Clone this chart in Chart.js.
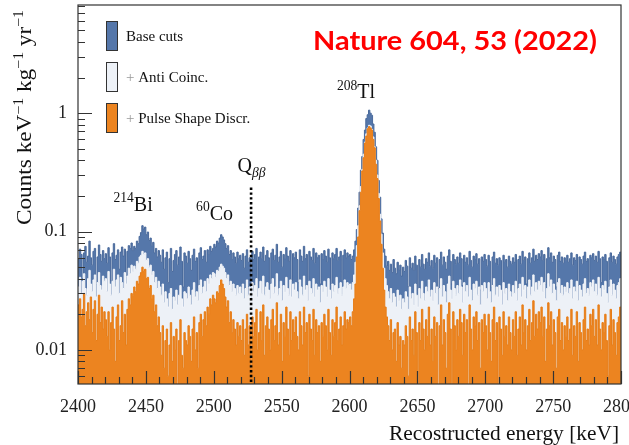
<!DOCTYPE html>
<html>
<head>
<meta charset="utf-8">
<script src="https://cdn.jsdelivr.net/npm/chart.js@4.4.1/dist/chart.umd.min.js"></script>
<style>
  html, body { margin: 0; padding: 0; background: #fff; overflow: hidden; }
  #wrap { width: 640px; height: 445px; }
</style>
</head>
<body>
<div id="wrap"><canvas id="c" width="640" height="445"></canvas></div>
<script>
// 1 keV bins from 2400 keV, values in counts/(keV kg yr)
const binStart = 2400;
const binWidth = 1;

const baseCuts = [
  .058,.071,.064,.040,.066,.075,.055,.062,.083,.060,.052,.068,.072,.036,.061,.077,.064,.056,.069,.059,
  .065,.054,.073,.061,.038,.066,.079,.058,.063,.070,.048,.067,.074,.062,.071,.041,.068,.076,.072,.080,
  .069,.075,.072,.083,.079,.091,.098,.112,.105,.109,.094,.099,.084,.088,.076,.081,.066,.072,.061,.069,
  .063,.055,.070,.048,.060,.067,.037,.059,.072,.046,.057,.064,.069,.052,.061,.074,.056,.034,.066,.062,
  .054,.068,.059,.047,.063,.071,.056,.060,.033,.066,.073,.058,.062,.069,.055,.070,.064,.075,.068,.072,
  .078,.074,.083,.080,.088,.094,.090,.085,.079,.072,.076,.064,.069,.058,.066,.061,.054,.067,.059,.063,
  .057,.065,.049,.062,.070,.055,.060,.035,.068,.058,.064,.072,.039,.061,.067,.059,.074,.056,.063,.069,
  .060,.036,.066,.071,.057,.063,.078,.055,.061,.068,.050,.064,.059,.073,.062,.056,.069,.038,.065,.060,
  .067,.058,.037,.070,.062,.056,.075,.059,.064,.034,.068,.061,.057,.072,.054,.066,.060,.063,.036,.065,
  .058,.069,.062,.055,.071,.060,.035,.066,.059,.064,.072,.057,.061,.068,.038,.063,.070,.060,.066,.062,
  .064,.058,.062,.070,.083,.104,.158,.215,.33,.43,.60,.72,.90,.97,1.06,1.00,.96,.81,.69,.52,
  .40,.27,.195,.128,.097,.071,.062,.051,.056,.047,.053,.045,.058,.049,.044,.055,.047,.052,.042,.050,
  .046,.057,.051,.034,.060,.049,.054,.047,.062,.052,.031,.058,.050,.064,.053,.048,.059,.055,.066,.051,
  .057,.049,.063,.054,.060,.033,.058,.067,.052,.061,.055,.048,.062,.070,.056,.036,.064,.058,.053,.061,
  .054,.066,.059,.035,.063,.055,.060,.052,.068,.057,.050,.062,.058,.065,.053,.059,.032,.061,.056,.064,
  .058,.051,.063,.056,.034,.061,.067,.054,.059,.052,.060,.057,.031,.063,.055,.058,.050,.062,.056,.053,
  .060,.055,.064,.033,.058,.062,.053,.068,.057,.061,.036,.059,.066,.054,.060,.071,.056,.063,.058,.065,
  .061,.069,.057,.064,.036,.059,.073,.060,.066,.055,.062,.058,.034,.063,.067,.056,.061,.054,.060,.057,
  .063,.055,.059,.066,.052,.060,.057,.064,.035,.061,.058,.053,.062,.067,.056,.059,.037,.063,.060,.065,
  .057,.062,.055,.068,.059,.037,.061,.058,.064,.056,.033,.060,.066,.055,.062,.058,.053,.061,.064,.067
];

const antiCoinc = [
  .034,.041,.030,.038,.044,.033,.029,.040,.047,.036,.031,.039,.043,.028,.037,.045,.035,.032,.042,.038,
  .040,.031,.046,.036,.029,.038,.048,.034,.039,.043,.030,.041,.037,.033,.045,.036,.042,.049,.044,.052,
  .046,.051,.048,.056,.054,.061,.063,.068,.064,.066,.057,.059,.050,.052,.043,.046,.037,.041,.033,.038,
  .034,.029,.036,.025,.031,.027,.023,.030,.033,.022,.028,.026,.032,.024,.029,.035,.027,.023,.031,.030,
  .027,.034,.029,.024,.032,.037,.028,.031,.026,.035,.039,.030,.034,.038,.031,.040,.036,.043,.040,.045,
  .044,.041,.047,.046,.050,.053,.051,.049,.045,.040,.043,.035,.038,.031,.036,.033,.029,.035,.030,.034,
  .030,.036,.027,.033,.039,.029,.034,.026,.037,.031,.035,.040,.028,.033,.038,.030,.042,.029,.034,.037,
  .032,.027,.036,.040,.030,.034,.044,.029,.033,.038,.026,.035,.031,.041,.033,.029,.039,.028,.036,.032,
  .037,.031,.027,.039,.034,.029,.042,.032,.035,.026,.038,.033,.030,.040,.028,.036,.032,.034,.025,.035,
  .031,.038,.034,.028,.040,.032,.027,.036,.031,.035,.041,.030,.033,.037,.029,.034,.039,.033,.037,.035,
  .036,.032,.037,.043,.055,.076,.112,.165,.24,.335,.45,.57,.67,.75,.79,.78,.73,.63,.52,.40,
  .30,.21,.14,.095,.066,.049,.040,.035,.031,.027,.033,.025,.030,.028,.023,.032,.026,.029,.022,.027,
  .025,.031,.028,.022,.034,.027,.030,.024,.036,.029,.023,.033,.027,.038,.030,.026,.034,.031,.039,.028,
  .032,.026,.037,.030,.034,.024,.033,.040,.028,.035,.031,.025,.036,.042,.032,.027,.038,.033,.029,.035,
  .030,.039,.034,.025,.037,.031,.035,.028,.041,.032,.026,.036,.033,.038,.029,.034,.024,.035,.031,.037,
  .033,.027,.037,.031,.025,.035,.040,.029,.034,.028,.035,.032,.024,.037,.030,.033,.026,.036,.031,.028,
  .035,.030,.038,.026,.033,.036,.028,.041,.032,.035,.027,.034,.039,.029,.034,.043,.031,.037,.032,.038,
  .035,.041,.031,.037,.027,.033,.044,.034,.039,.030,.036,.032,.026,.037,.040,.030,.035,.029,.034,.031,
  .037,.030,.033,.039,.027,.034,.031,.038,.026,.035,.032,.028,.036,.040,.030,.033,.029,.037,.034,.039,
  .031,.036,.029,.041,.033,.028,.035,.032,.038,.030,.025,.034,.039,.029,.036,.032,.027,.035,.037,.040
];

const pulseShape = [
  .024,.027,.019,.022,.030,.016,.021,.025,.018,.028,.014,.022,.026,.012,.020,.029,.017,.023,.015,.021,
  .018,.013,.021,.010,.017,.023,.015,.008,.019,.024,.012,.016,.026,.014,.020,.011,.022,.027,.024,.030,
  .029,.034,.031,.038,.036,.042,.045,.050,.046,.048,.040,.041,.033,.035,.027,.029,.021,.024,.016,.019,
  .014,.009,.016,.007,.012,.015,.006,.011,.017,.008,.013,.010,.015,.005,.012,.018,.009,.007,.014,.012,
  .011,.016,.013,.008,.015,.019,.010,.014,.007,.017,.020,.013,.018,.021,.016,.023,.020,.027,.024,.029,
  .027,.025,.031,.030,.035,.039,.036,.033,.028,.023,.026,.017,.021,.014,.018,.015,.011,.017,.013,.016,
  .012,.018,.009,.015,.020,.011,.016,.007,.019,.013,.017,.022,.010,.014,.021,.012,.024,.009,.016,.019,
  .015,.010,.018,.022,.012,.016,.025,.011,.014,.020,.008,.017,.013,.023,.015,.009,.021,.012,.018,.014,
  .019,.013,.010,.021,.016,.011,.023,.014,.017,.006,.020,.015,.012,.022,.009,.018,.014,.016,.008,.017,
  .013,.020,.016,.010,.022,.014,.009,.018,.013,.017,.023,.012,.015,.019,.011,.016,.021,.015,.018,.017,
  .019,.016,.021,.027,.036,.061,.090,.150,.215,.325,.42,.56,.64,.74,.77,.75,.72,.60,.51,.37,
  .28,.19,.123,.078,.049,.032,.023,.019,.016,.012,.018,.010,.014,.015,.008,.017,.011,.013,.007,.012,
  .011,.016,.013,.006,.019,.012,.015,.009,.021,.014,.004,.017,.012,.022,.015,.010,.018,.013,.023,.011,
  .015,.008,.019,.013,.017,.004,.016,.024,.011,.018,.014,.007,.020,.025,.015,.004,.021,.016,.010,.018,
  .013,.022,.017,.009,.020,.014,.018,.004,.024,.015,.010,.019,.016,.021,.012,.017,.007,.018,.014,.020,
  .016,.010,.020,.014,.008,.018,.023,.012,.017,.004,.019,.015,.009,.021,.013,.016,.011,.019,.014,.010,
  .018,.013,.021,.009,.015,.019,.011,.024,.014,.018,.010,.016,.022,.012,.017,.026,.013,.020,.015,.021,
  .017,.023,.013,.019,.008,.015,.025,.016,.021,.011,.018,.014,.007,.019,.022,.012,.017,.010,.016,.013,
  .019,.012,.015,.022,.009,.016,.013,.021,.008,.017,.014,.010,.018,.023,.012,.015,.011,.020,.016,.022,
  .013,.018,.011,.024,.015,.010,.017,.014,.020,.012,.006,.016,.022,.011,.018,.014,.009,.017,.019,.023
];

const xTicks = [2400, 2450, 2500, 2550, 2600, 2650, 2700, 2750, 2800];
const yTicks = [0.01, 0.1, 1];
const qbb = 2527.5;

const SERIF = "'Liberation Serif', 'DejaVu Serif', serif";

// bin left edges + closing edge, drawn as a stepped line
function toSteps(vals) {
  const pts = vals.map((v, i) => ({ x: binStart + i * binWidth, y: v }));
  pts.push({ x: binStart + vals.length * binWidth, y: vals[vals.length - 1] });
  return pts;
}

// text made of runs, some raised or lowered
function drawRuns(ctx, runs, x, y, size, align, stretch) {
  const fontOf = r => (r.it ? 'italic ' : '') + ((r.sup || r.sub) ? size * 0.68 : size) + 'px ' + SERIF;
  let total = 0;
  runs.forEach(r => { ctx.font = fontOf(r); r.w = ctx.measureText(r.t).width; total += r.w; });
  const k = stretch ? stretch / total : 1;
  ctx.save();
  ctx.translate(x, y);
  ctx.scale(k, 1);
  let cx = align === 'center' ? -total / 2 : align === 'right' ? -total : 0;
  runs.forEach(r => {
    ctx.font = fontOf(r);
    ctx.fillStyle = r.color || '#111';
    const dy = r.sup ? -size * 0.42 : r.sub ? size * 0.25 : 0;
    ctx.fillText(r.t, cx, dy);
    cx += r.w;
  });
  ctx.restore();
  return total;
}

const overlay = {
  id: 'overlay',
  afterDraw(chart) {
    const { ctx, chartArea: a, scales: { x, y } } = chart;
    ctx.save();
    ctx.textAlign = 'left';
    ctx.textBaseline = 'alphabetic';

    // Q_bb dotted line
    ctx.strokeStyle = '#000';
    ctx.lineWidth = 2.6;
    ctx.setLineDash([2.4, 2.4]);
    const qx = x.getPixelForValue(qbb);
    ctx.beginPath();
    ctx.moveTo(qx, y.getPixelForValue(0.235));
    ctx.lineTo(qx, a.bottom);
    ctx.stroke();
    ctx.setLineDash([]);

    // frame
    ctx.strokeStyle = '#333';
    ctx.lineWidth = 1.2;
    ctx.strokeRect(a.left, a.top, a.right - a.left, a.bottom - a.top);

    // inward ticks
    ctx.beginPath();
    for (let e = 2400; e <= 2800; e += 10) {
      const px = Math.round(x.getPixelForValue(e)) + 0.5;
      const len = e % 50 === 0 ? 13 : 7;
      ctx.moveTo(px, a.bottom);
      ctx.lineTo(px, a.bottom - len);
    }
    for (let d = -3; d <= 0; d++) {
      for (let k = 1; k <= 9; k++) {
        const v = k * Math.pow(10, d);
        if (v < y.min || v > y.max) continue;
        const py = Math.round(y.getPixelForValue(v)) + 0.5;
        ctx.moveTo(a.left, py);
        ctx.lineTo(a.left + (k === 1 ? 14 : 7), py);
      }
    }
    ctx.stroke();

    // peak labels
    drawRuns(ctx, [{ t: '214', sup: 1 }, { t: 'Bi' }], x.getPixelForValue(2440.6), y.getPixelForValue(0.15), 20, 'center');
    drawRuns(ctx, [{ t: '60', sup: 1 }, { t: 'Co' }], x.getPixelForValue(2500.6), y.getPixelForValue(0.126), 20, 'center');
    drawRuns(ctx, [{ t: '208', sup: 1 }, { t: 'Tl' }], x.getPixelForValue(2604.8), y.getPixelForValue(1.34), 20, 'center');
    drawRuns(ctx, [{ t: 'Q' }, { t: 'ββ', sub: 1, it: 1 }], x.getPixelForValue(2517.5), y.getPixelForValue(0.32), 20, 'left');

    // legend
    const legend = [
      { fill: '#5577aa', runs: [{ t: 'Base cuts' }] },
      { fill: '#edf1f7', runs: [{ t: '+ ', color: '#999' }, { t: 'Anti Coinc.' }] },
      { fill: '#ec8420', runs: [{ t: '+ ', color: '#999' }, { t: 'Pulse Shape Discr.' }] }
    ];
    const boxTop = [21, 62, 103];
    legend.forEach((l, i) => {
      ctx.fillStyle = l.fill;
      ctx.fillRect(106, boxTop[i], 11, 29);
      ctx.strokeStyle = '#333';
      ctx.lineWidth = 1;
      ctx.strokeRect(106.5, boxTop[i] + 0.5, 11, 29);
      drawRuns(ctx, l.runs, 126, boxTop[i] + 20, 15, 'left');
    });

    // axis titles
    drawRuns(ctx, [{ t: 'Recostructed energy [keV]' }], 619, 440, 20, 'right', 230);

    ctx.save();
    ctx.translate(31, 10);
    ctx.rotate(-Math.PI / 2);
    drawRuns(ctx, [{ t: 'Counts keV' }, { t: '−1', sup: 1 }, { t: ' kg' }, { t: '−1', sup: 1 },
      { t: ' yr' }, { t: '−1', sup: 1 }], 0, 0, 20, 'right', 215);
    ctx.restore();

    // citation
    ctx.fillStyle = '#ff0000';
    ctx.font = 'bold 27px Lato, "Open Sans", sans-serif';
    const cite = 'Nature 604, 53 (2022)';
    const cs = 284 / ctx.measureText(cite).width;
    ctx.save();
    ctx.translate(313, 50);
    ctx.scale(cs, 1);
    ctx.fillText(cite, 0, 0);
    ctx.restore();

    ctx.restore();
  }
};

new Chart(document.getElementById('c'), {
  type: 'line',
  data: {
    datasets: [
      { label: '+ Pulse Shape Discr.', data: toSteps(pulseShape), borderColor: '#e77d17', backgroundColor: '#ec8420', fill: 'start' },
      { label: '+ Anti Coinc.', data: toSteps(antiCoinc), borderColor: '#f3f5f9', backgroundColor: '#edf1f7', fill: 'start' },
      { label: 'Base cuts', data: toSteps(baseCuts), borderColor: '#4a6a9c', backgroundColor: '#5577aa', fill: 'start' }
    ]
  },
  options: {
    responsive: false,
    animation: false,
    devicePixelRatio: 1,
    elements: {
      line: { stepped: true, tension: 0, borderWidth: 1 },
      point: { radius: 0, hitRadius: 0 }
    },
    layout: { padding: { left: 0, top: 5, right: 19, bottom: 0 } },
    plugins: { legend: { display: false }, tooltip: { enabled: false } },
    scales: {
      x: {
        type: 'linear', min: 2400, max: 2800,
        grid: { display: false, drawTicks: false },
        border: { display: false },
        afterBuildTicks: s => { s.ticks = xTicks.map(v => ({ value: v })); },
        afterFit: s => { s.height = 61; s.paddingLeft = 0; s.paddingRight = 0; },
        ticks: { autoSkip: false, maxRotation: 0, padding: 12, color: '#222', font: { family: SERIF, size: 18 }, callback: v => String(v) }
      },
      y: {
        type: 'logarithmic', min: 0.00515, max: 8.2,
        grid: { display: false, drawTicks: false },
        border: { display: false },
        afterBuildTicks: s => { s.ticks = yTicks.map(v => ({ value: v })); },
        afterFit: s => { s.width = 78; s.paddingTop = 0; s.paddingBottom = 0; },
        ticks: { padding: 11, color: '#222', font: { family: SERIF, size: 18 }, callback: v => String(v) }
      }
    }
  },
  plugins: [overlay]
});
</script>
</body>
</html>
